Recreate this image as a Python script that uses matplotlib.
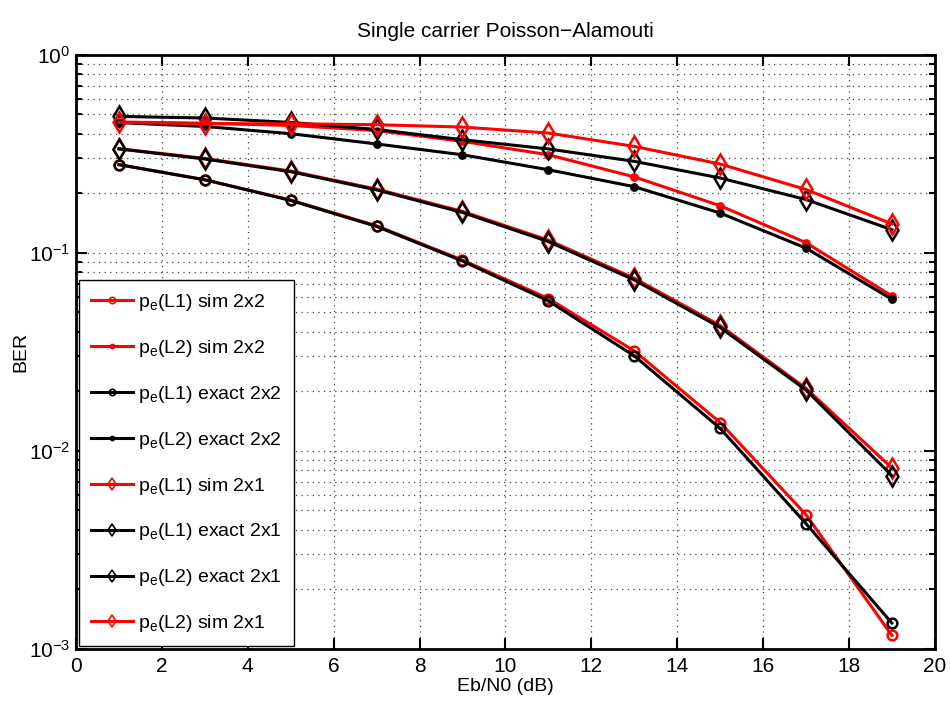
import matplotlib
matplotlib.use("Agg")
import matplotlib.pyplot as plt
from matplotlib.ticker import LogLocator, MultipleLocator, NullFormatter

# ----------------------------- Datos ----------------------------------------
snr_db = [1, 3, 5, 7, 9, 11, 13, 15, 17, 19]

sim_L1_2x2 = [0.279, 0.234, 0.185, 0.137, 0.092, 0.0588, 0.032, 0.0139, 0.00476, 0.00117]
sim_L2_2x2 = [0.458, 0.452, 0.440, 0.415, 0.366, 0.313, 0.242, 0.173, 0.1126, 0.0606]
exact_L1_2x2 = [0.279, 0.234, 0.184, 0.136, 0.091, 0.0572, 0.0302, 0.0130, 0.00429, 0.00135]
exact_L2_2x2 = [0.455, 0.435, 0.400, 0.355, 0.313, 0.263, 0.216, 0.159, 0.1057, 0.0583]
sim_L1_2x1 = [0.336, 0.300, 0.259, 0.210, 0.162, 0.116, 0.0745, 0.0430, 0.0207, 0.0082]
exact_L1_2x1 = [0.335, 0.298, 0.257, 0.208, 0.160, 0.114, 0.0730, 0.0420, 0.0203, 0.0075]
exact_L2_2x1 = [0.489, 0.480, 0.456, 0.420, 0.373, 0.335, 0.290, 0.239, 0.186, 0.131]
sim_L2_2x1 = [0.456, 0.449, 0.449, 0.444, 0.432, 0.403, 0.345, 0.281, 0.209, 0.140]

labels = [
    r"p$_\mathrm{e}$(L1) sim 2x2",
    r"p$_\mathrm{e}$(L2) sim 2x2",
    r"p$_\mathrm{e}$(L1) exact 2x2",
    r"p$_\mathrm{e}$(L2) exact 2x2",
    r"p$_\mathrm{e}$(L1) sim 2x1",
    r"p$_\mathrm{e}$(L1) exact 2x1",
    r"p$_\mathrm{e}$(L2) exact 2x1",
    r"p$_\mathrm{e}$(L2) sim 2x1",
]
series = [sim_L1_2x2, sim_L2_2x2, exact_L1_2x2, exact_L2_2x2,
          sim_L1_2x1, exact_L1_2x1, exact_L2_2x1, sim_L2_2x1]

RED = "#ff0000"
BLACK = "#000000"
# color, marcador, relleno, tamaño
styles = [
    (RED, "o", "none", 7),
    (RED, "o", RED, 4.5),
    (BLACK, "o", "none", 7),
    (BLACK, "o", BLACK, 4.5),
    (RED, "d", "none", 10),
    (BLACK, "d", "none", 10),
    (BLACK, "d", "none", 10),
    (RED, "d", "none", 10),
]

# ----------------------------- Estilo ---------------------------------------
plt.rcParams.update({
    "font.family": ["Liberation Sans", "DejaVu Sans"],
    "font.size": 14,
    "mathtext.fontset": "custom",
    "mathtext.rm": "Liberation Sans",
    "mathtext.it": "Liberation Sans:italic",
    "axes.linewidth": 2.0,
})

# ----------------------------- Figura ---------------------------------------
fig = plt.figure(figsize=(9.5, 7.13), dpi=100)
ax = fig.add_axes([0.080, 0.090, 0.904, 0.833])

for y, lab, (c, m, fc, ms) in zip(series, labels, styles):
    ax.semilogy(snr_db, y, color=c, lw=2.2, marker=m, markersize=ms,
                markerfacecolor=fc, markeredgecolor=c, markeredgewidth=1.8,
                label=lab)

ax.set_xlim(0, 20)
ax.set_ylim(1e-3, 1)
ax.xaxis.set_major_locator(MultipleLocator(2))
ax.yaxis.set_major_locator(LogLocator(base=10, numticks=10))
ax.yaxis.set_minor_locator(LogLocator(base=10, subs=range(2, 10), numticks=20))
ax.yaxis.set_minor_formatter(NullFormatter())

grid_ls = (0, (1, 3.5))
ax.grid(True, which="major", axis="both", color="#444444", linestyle=grid_ls, lw=0.9)
ax.grid(True, which="minor", axis="y", color="#444444", linestyle=grid_ls, lw=0.9)

ax.tick_params(which="both", direction="in", top=True, right=True, labelsize=15, width=1.5)
ax.tick_params(which="major", length=8, pad=6)
ax.tick_params(which="minor", length=4)
ax.tick_params(axis="y", which="major", pad=4)

ax.set_xlabel("Eb/N0 (dB)", fontsize=14, labelpad=1)
ax.set_ylabel("BER", fontsize=14)
ax.yaxis.set_label_coords(-0.054, 0.5)
ax.set_title("Single carrier Poisson\u2212Alamouti", fontsize=15, pad=13)

leg = ax.legend(loc="lower left", fontsize=14, markerscale=0.65, handlelength=2.2,
                handletextpad=0.25, labelspacing=1.28, borderaxespad=0.15,
                borderpad=0.6, fancybox=False, framealpha=1, edgecolor="black")
leg.get_frame().set_linewidth(1.0)
for h in leg.legend_handles:
    h.set_markeredgewidth(1.2)

fig.savefig("out.png", dpi=100)
